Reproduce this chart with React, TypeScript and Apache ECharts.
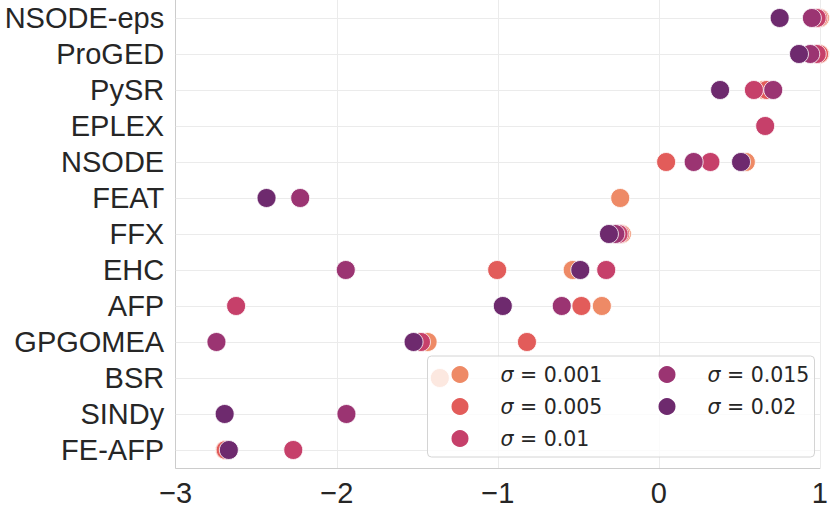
import React, { useEffect, useRef } from "react";
import * as echarts from "echarts";

const categories = [
  "NSODE-eps", "ProGED", "PySR", "EPLEX", "NSODE", "FEAT", "FFX",
  "EHC", "AFP", "GPGOMEA", "BSR", "SINDy", "FE-AFP",
];

const sigmaLevels = ["0.001", "0.005", "0.01", "0.015", "0.02"];
const sigmaColors = ["#ee8a66", "#e25c5a", "#c6406a", "#9b3472", "#6e2a6e"];

const s001 = [1.0, 1.0, 0.65, null, 0.54, -0.24, -0.23, -0.535, -0.354, -1.436, -1.36, null, -2.695];
const s005 = [0.99, 0.995, 0.67, null, 0.045, null, -0.24, -1.004, -0.481, -0.819, null, null, -2.69];
const s01 = [0.98, 0.98, 0.59, 0.66, 0.32, null, -0.25, -0.327, -2.625, -1.477, null, null, -2.27];
const s015 = [0.95, 0.94, 0.71, null, 0.216, -2.227, -0.27, -1.944, -0.603, -2.747, null, -1.94, null];
const s02 = [0.75, 0.87, 0.38, null, 0.51, -2.436, -0.31, -0.488, -0.969, -1.523, null, -2.696, -2.67];

const seriesValues = [s001, s005, s01, s015, s02];

const xTicks = [-3, -2, -1, 0, 1];

export default function App() {
  const ref = useRef<HTMLDivElement>(null);
  useEffect(() => {
    document.body.style.margin = "0";
    const chart = echarts.init(ref.current!, null, { renderer: "svg" });
    const legendText = {
      color: "#262626",
      rich: {
        s: { fontStyle: "italic", fontFamily: "DejaVu Sans", fontSize: 20.5, lineHeight: 20, color: "#262626", padding: [0, 0, 0, 26] },
        r: { fontFamily: "DejaVu Sans", fontSize: 20.5, lineHeight: 20, color: "#262626" },
      },
    };
    const legendBase = {
      orient: "vertical",
      top: 364,
      itemGap: 11,
      itemWidth: 19,
      itemHeight: 19,
      padding: 0,
      selectedMode: false,
      z: 20,
      formatter: (name: string) => `{s|σ}{r| = ${name}}`,
      textStyle: legendText,
    };
    const option: any = {
      animation: false,
      grid: { left: 175.7, right: 7.3, top: 0, bottom: 38.3 },
      xAxis: {
        type: "value",
        min: xTicks[0],
        max: xTicks[xTicks.length - 1],
        interval: 1,
        axisLine: { show: true, onZero: false, lineStyle: { color: "#cccccc", width: 1 } },
        axisTick: { show: false },
        splitLine: { show: true, lineStyle: { color: "#ebebeb", width: 1 } },
        axisLabel: {
          fontSize: 29,
          fontFamily: "Liberation Sans",
          color: "#262626",
          margin: 10,
          formatter: (v: number) => (v < 0 ? "\u2212" + Math.abs(v) : String(v)),
        },
      },
      yAxis: {
        type: "category",
        data: categories,
        inverse: true,
        axisLine: { show: true, onZero: false, lineStyle: { color: "#cccccc", width: 1 } },
        axisTick: { show: false },
        splitLine: { show: false },
        axisLabel: { interval: 0, fontSize: 29, fontFamily: "Liberation Sans", color: "#262626", margin: 11.5 },
      },
      legend: [
        { ...legendBase, left: 449.5, data: sigmaLevels.slice(0, 3) },
        { ...legendBase, left: 656.5, data: sigmaLevels.slice(3) },
      ],
      graphic: [
        {
          type: "rect",
          z: 10,
          shape: { x: 427.5, y: 356, width: 387, height: 101, r: 4 },
          style: { fill: "rgba(255,255,255,0.8)", stroke: "#d4d4d4", lineWidth: 1 },
        },
      ],
      series: [
        {
          type: "scatter",
          name: "grid",
          data: [],
          z: 1,
          markLine: {
            z: 1,
            silent: true,
            symbol: ["none", "none"],
            label: { show: false },
            lineStyle: { color: "#ebebeb", type: "solid", width: 1 },
            data: categories.map((c) => ({ yAxis: c })),
          },
        },
        ...sigmaLevels.map((s, k) => ({
          type: "scatter",
          name: s,
          z: 2,
          symbol: "circle",
          symbolSize: 19,
          itemStyle: { color: sigmaColors[k], borderColor: "#ffffff", borderWidth: 0.8, opacity: 1 },
          data: categories
            .map((c, i) => (seriesValues[k][i] == null ? null : [seriesValues[k][i], c]))
            .filter((d) => d !== null),
        })),
      ],
    };
    chart.setOption(option);
    return () => chart.dispose();
  }, []);
  return <div ref={ref} style={{ width: 831, height: 507 }} />;
}
